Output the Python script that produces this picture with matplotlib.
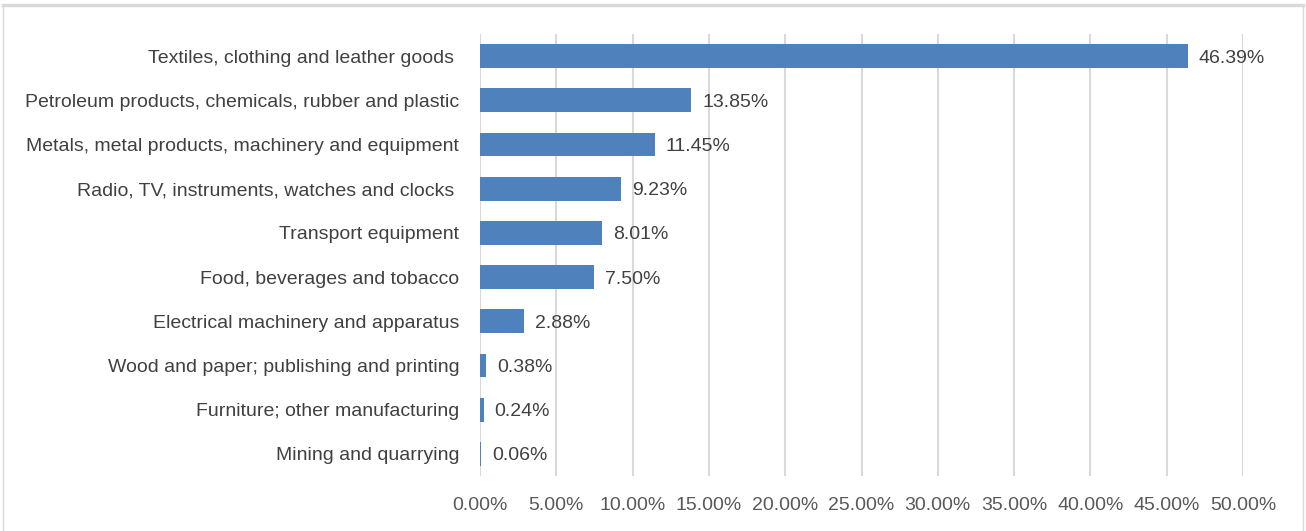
import matplotlib.pyplot as plt
from matplotlib.lines import Line2D

sectors = [
    "Textiles, clothing and leather goods ",
    "Petroleum products, chemicals, rubber and plastic",
    "Metals, metal products, machinery and equipment",
    "Radio, TV, instruments, watches and clocks ",
    "Transport equipment",
    "Food, beverages and tobacco",
    "Electrical machinery and apparatus",
    "Wood and paper; publishing and printing",
    "Furniture; other manufacturing",
    "Mining and quarrying",
]
shares = [46.39, 13.85, 11.45, 9.23, 8.01, 7.50, 2.88, 0.38, 0.24, 0.06]
ticks = [0, 5, 10, 15, 20, 25, 30, 35, 40, 45, 50]

plt.rcParams['font.family'] = ['Liberation Sans', 'DejaVu Sans']
fs = 14

fig = plt.figure(figsize=(13.06, 5.31), dpi=100)
ax = fig.add_axes([480 / 1306, 1 - 476 / 531, 763 / 1306, 442 / 531])

ypos = list(range(len(sectors)))
ax.barh(ypos, shares, height=0.54, color='#4f81bd', zorder=3)
for y, v in zip(ypos, shares):
    ax.annotate(f"{v:.2f}%", (v, y), xytext=(11, -2), textcoords='offset pixels',
                va='center', ha='left', fontsize=fs, color='#404040')

ax.set_xlim(0, 50)
ax.set_ylim(len(sectors) - 0.5, -0.5)
ax.set_yticks(ypos)
ax.set_yticklabels(sectors, fontsize=fs, color='#404040')
ax.set_xticks(ticks)
ax.set_xticklabels([f"{t:.2f}%" for t in ticks], fontsize=fs, color='#595959')
ax.tick_params(axis='y', length=0, pad=15)
ax.tick_params(axis='x', length=0, pad=15)
ax.grid(axis='x', color='#d9d9d9', linewidth=1.5, zorder=0)
for s in ax.spines.values():
    s.set_visible(False)

# chart frame
frame = '#d9d9d9'
fig.add_artist(Line2D([0.002, 0.998], [1 - 5 / 531] * 2, color=frame, lw=2.5))
fig.add_artist(Line2D([3 / 1306] * 2, [0, 1 - 5 / 531], color=frame, lw=1))
fig.add_artist(Line2D([1303 / 1306] * 2, [0, 1 - 5 / 531], color=frame, lw=1))

fig.savefig('out.png', dpi=100)
